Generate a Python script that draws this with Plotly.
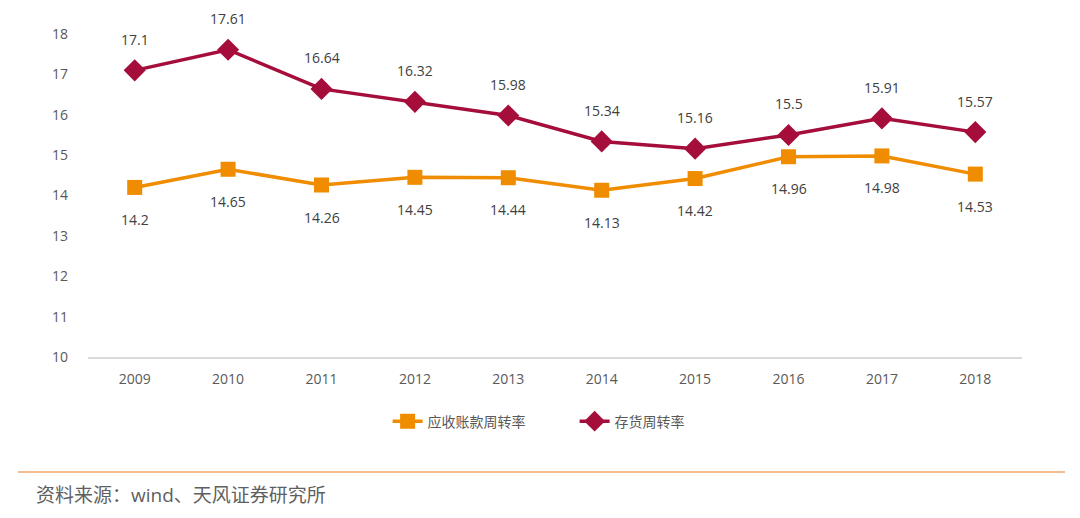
import plotly.graph_objects as go

# data
years = ["2009", "2010", "2011", "2012", "2013", "2014", "2015", "2016", "2017", "2018"]
receivable_turnover = [14.2, 14.65, 14.26, 14.45, 14.44, 14.13, 14.42, 14.96, 14.98, 14.53]
inventory_turnover = [17.1, 17.61, 16.64, 16.32, 15.98, 15.34, 15.16, 15.5, 15.91, 15.57]
y_ticks = [10, 11, 12, 13, 14, 15, 16, 17, 18]

ORANGE = "#F08C00"
RED = "#A50D3B"
FONT = "Open Sans, Noto Sans CJK SC, sans-serif"

fig = go.Figure()
fig.add_trace(go.Scatter(
    x=years, y=receivable_turnover, name="应收账款周转率",
    mode="lines+markers",
    line=dict(color=ORANGE, width=3.5),
    marker=dict(symbol="square", size=15, color=ORANGE),
))
fig.add_trace(go.Scatter(
    x=years, y=inventory_turnover, name="存货周转率",
    mode="lines+markers",
    line=dict(color=RED, width=3.5),
    marker=dict(symbol="diamond", size=17, color=RED),
))

# value labels: red above, orange below (x by category index, so "2009" isn't read as a number)
for i, v in enumerate(inventory_turnover):
    fig.add_annotation(x=i, y=v, text=f"{v:g}", showarrow=False, yshift=31,
                       font=dict(size=14, color="#404040", family=FONT))
for i, v in enumerate(receivable_turnover):
    fig.add_annotation(x=i, y=v, text=f"{v:g}", showarrow=False, yshift=-32,
                       font=dict(size=14, color="#404040", family=FONT))

# footer rule + source
fig.add_shape(type="line", xref="paper", yref="paper",
              x0=-0.075, x1=1.046, y0=-0.356, y1=-0.356,
              line=dict(color="#F2A66B", width=1.5))
fig.add_annotation(xref="paper", yref="paper", x=-0.058, y=-0.427,
                   xanchor="left", yanchor="middle", showarrow=False,
                   text="资料来源：wind、天风证券研究所",
                   font=dict(size=19, color="#5f5f5f", family=FONT))

# page body has an 8px margin, so the figure is 8px smaller and margins shifted
fig.update_layout(
    width=1072, height=510,
    margin=dict(l=80, r=58, t=26, b=161),
    paper_bgcolor="white", plot_bgcolor="white",
    font=dict(family=FONT, color="#595959", size=14),
    showlegend=True,
    legend=dict(orientation="h", x=0.521, xanchor="center", y=-0.2, yanchor="middle",
                font=dict(size=14, color="#595959"), entrywidth=142),
)
fig.update_xaxes(
    type="category", range=[-0.5, 9.5],
    showgrid=False, showline=True, linecolor="#D9D9D9", linewidth=1.5,
    ticks="", tickfont=dict(size=14, color="#595959"), ticklabelstandoff=8,
)
fig.update_yaxes(
    range=[10, 18], tickvals=y_ticks, showgrid=False, zeroline=False,
    showline=False, ticks="", tickfont=dict(size=14, color="#595959"),
    ticklabelstandoff=19,
)
fig.update_traces(cliponaxis=False)

fig.write_html("out.html")
